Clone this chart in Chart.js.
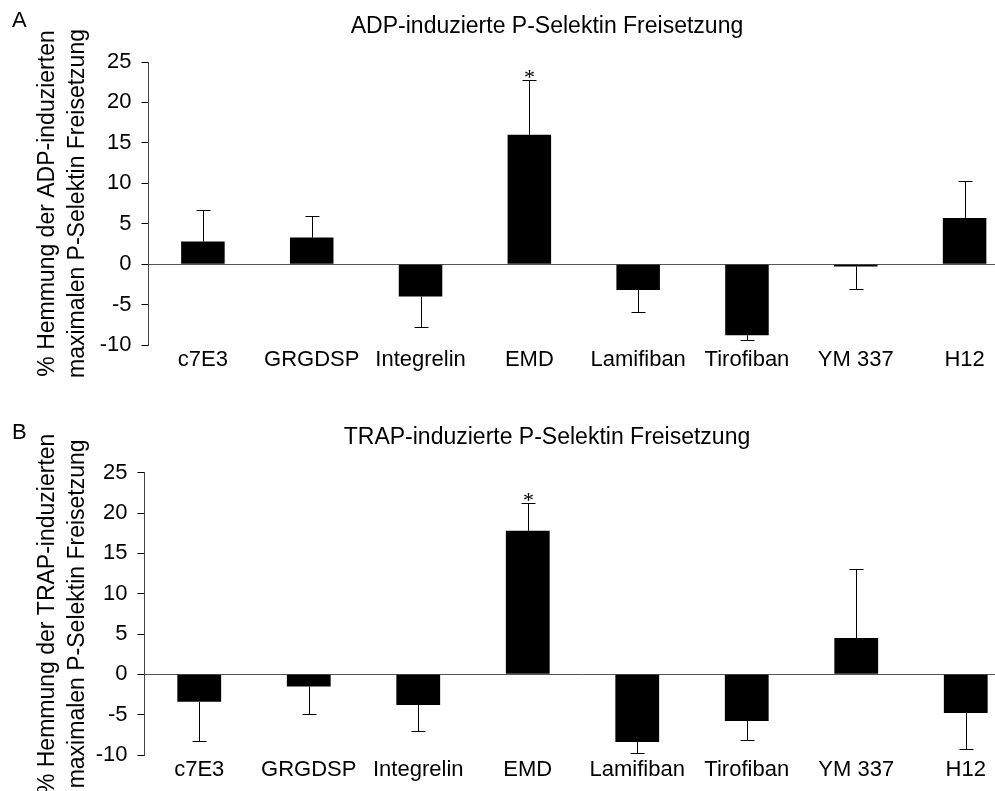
<!DOCTYPE html>
<html>
<head>
<meta charset="utf-8">
<style>
  html, body { margin: 0; padding: 0; background: #fff; overflow: hidden; }
  .panel { position: absolute; left: 0; width: 1030px; }
</style>
</head>
<body>
<div class="panel" style="top:0; height:390px"><canvas id="chartA"></canvas></div>
<div class="panel" style="top:400px; height:391px"><canvas id="chartB"></canvas></div>

<script src="https://cdn.jsdelivr.net/npm/chart.js"></script>
<script>
const categories = ["c7E3", "GRGDSP", "Integrelin", "EMD", "Lamifiban", "Tirofiban", "YM 337", "H12"];
// mean values and one-sided error (SD)
const adpValues = [2.8, 3.3, -4.0, 16.0, -3.2, -8.8, -0.3, 5.7];
const adpErrors = [3.9, 2.6, 3.8, 6.8, 2.7, 0.6, 2.8, 4.6];
const trapValues = [-3.4, -1.5, -3.8, 17.8, -8.4, -5.8, 4.5, -4.8];
const trapErrors = [4.9, 3.4, 3.2, 3.5, 1.3, 2.4, 8.6, 4.4];
const yTicks = [-10, -5, 0, 5, 10, 15, 20, 25];
const significant = ["EMD"];

Chart.defaults.font.family = '"Liberation Sans", Arial, sans-serif';
Chart.defaults.font.size = 22;
Chart.defaults.color = '#000';

// error bars go away from zero, with a small cap; star above significant ones
const errorBars = {
  id: 'errorBars',
  afterDatasetsDraw(chart, args, opts) {
    const ctx = chart.ctx;
    const yScale = chart.scales.y;
    const meta = chart.getDatasetMeta(0);
    const vals = chart.data.datasets[0].data;
    ctx.save();
    ctx.strokeStyle = '#000';
    ctx.lineWidth = 1;
    meta.data.forEach((bar, i) => {
      const v = vals[i];
      const end = v >= 0 ? v + opts.errors[i] : v - opts.errors[i];
      const x = Math.round(bar.x) + 0.5;
      const y0 = yScale.getPixelForValue(v);
      const y1 = Math.round(yScale.getPixelForValue(end)) + 0.5;
      ctx.beginPath();
      ctx.moveTo(x, y0);
      ctx.lineTo(x, y1);
      ctx.moveTo(x - 7, y1);
      ctx.lineTo(x + 7, y1);
      ctx.stroke();
      if (significant.includes(chart.data.labels[i])) {
        ctx.fillStyle = '#000';
        ctx.font = '22px "Liberation Serif", serif';
        ctx.textAlign = 'center';
        ctx.textBaseline = 'alphabetic';
        ctx.fillText('*', x, y1 + 3);
      }
    });
    ctx.restore();
  }
};

const panelText = {
  id: 'panelText',
  afterDraw(chart, args, opts) {
    const ctx = chart.ctx;
    ctx.save();
    ctx.fillStyle = '#000';
    ctx.textBaseline = 'middle';
    ctx.font = '22px "Liberation Sans", Arial, sans-serif';
    ctx.textAlign = 'left';
    ctx.fillText(opts.letter, 12, opts.letterY);
    ctx.font = '23px "Liberation Sans", Arial, sans-serif';
    ctx.textAlign = 'center';
    ctx.fillText(opts.title, 547, opts.titleY);
    ctx.restore();
  }
};

function makeChart(id, values, errors, cfg) {
  const canvasH = document.getElementById(id).parentNode.clientHeight;
  return new Chart(document.getElementById(id), {
    type: 'bar',
    data: {
      labels: categories,
      datasets: [{
        data: values,
        backgroundColor: '#000',
        borderWidth: 0,
        barPercentage: 0.4,
        categoryPercentage: 1.0
      }]
    },
    options: {
      responsive: true,
      maintainAspectRatio: false,
      animation: false,
      devicePixelRatio: 1,
      layout: { padding: { top: cfg.top, left: 0, right: 1030 - cfg.right, bottom: 0 } },
      plugins: {
        legend: { display: false },
        tooltip: { enabled: false },
        errorBars: { errors: errors },
        panelText: { letter: cfg.letter, letterY: cfg.letterY, title: cfg.title, titleY: cfg.titleY }
      },
      scales: {
        x: {
          grid: { display: false, drawTicks: false },
          border: { display: false },
          ticks: { autoSkip: false, maxRotation: 0, padding: 2, font: { size: 22 } },
          afterFit(scale) { scale.height = canvasH - cfg.bottom; }
        },
        y: {
          min: -10,
          max: 25,
          afterBuildTicks(scale) { scale.ticks = yTicks.map(v => ({ value: v })); },
          ticks: { padding: 10, font: { size: 22 } },
          grid: {
            color: c => (c.tick && c.tick.value === 0) ? '#555' : 'rgba(0,0,0,0)',
            tickColor: '#000',
            tickLength: 7,
            lineWidth: 1
          },
          border: { display: true, color: '#444', width: 1 },
          title: {
            display: true,
            text: cfg.axisTitle,
            font: { size: 23, lineHeight: 30 / 23 },
            padding: { top: 33, bottom: 0 }
          },
          afterFit(scale) { scale.width = cfg.left; }
        }
      }
    },
    plugins: [errorBars, panelText]
  });
}

makeChart('chartA', adpValues, adpErrors, {
  top: 62, bottom: 345, left: 148.5, right: 1019,
  letter: 'A', letterY: 21, title: 'ADP-induzierte P-Selektin Freisetzung', titleY: 27,
  axisTitle: ['% Hemmung der ADP-induzierten', 'maximalen P-Selektin Freisetzung']
});

makeChart('chartB', trapValues, trapErrors, {
  top: 72.7, bottom: 355, left: 144.5, right: 1020.5,
  letter: 'B', letterY: 33, title: 'TRAP-induzierte P-Selektin Freisetzung', titleY: 38,
  axisTitle: ['% Hemmung der TRAP-induzierten', 'maximalen P-Selektin Freisetzung']
});
</script>
</body>
</html>
